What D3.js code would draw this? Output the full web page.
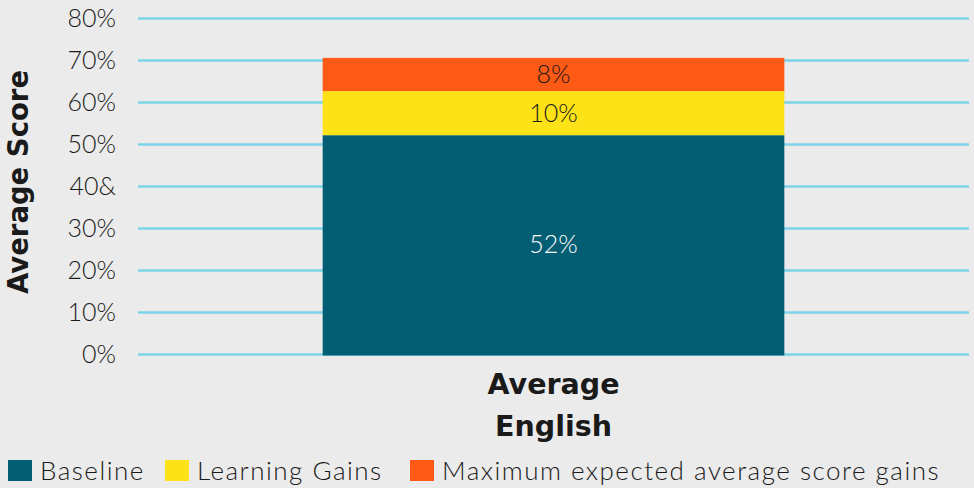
<!DOCTYPE html>
<html>
<head>
<meta charset="utf-8">
<script src="https://cdn.jsdelivr.net/npm/d3@7"></script>
<style>
  body { margin: 0; background: #ebebeb; }
  svg { display: block; }
  .tick-lbl { font-family: Lato, sans-serif; font-weight: 300; font-size: 25px; fill: #1a1a1a; }
  .bold { font-family: "DejaVu Sans", sans-serif; font-weight: bold; fill: #1a1a1a; }
  .seg-lbl { font-family: Lato, sans-serif; font-weight: 300; font-size: 25px; }
  .legend { font-family: Lato, sans-serif; font-weight: 300; font-size: 26px; letter-spacing: 1.5px; fill: #1a1a1a; }
</style>
</head>
<body>
<svg></svg>
<script>
const CATEGORIES = ["Average English"];
const SERIES = ["Baseline", "Learning Gains", "Maximum expected average score gains"];
const BASELINE = [52.1];
const LEARNING_GAINS = [10.5];
const MAX_GAINS = [7.9];
const SEG_LABELS = ["52%", "10%", "8%"];
const Y_TICKS = [0, 10, 20, 30, 40, 50, 60, 70, 80];
const Y_TICK_LABELS = ["0%", "10%", "20%", "30%", "40&", "50%", "60%", "70%", "80%"];
const COLORS = ["#035e73", "#fce216", "#ff5916"];
const LABEL_COLORS = ["#ffffff", "#1a1a1a", "#1a1a1a"];

const w = 974, h = 488;
const margin = {top: 18, right: 5, bottom: 134, left: 138};

const rows = CATEGORIES.map((c, i) => ({
	cat: c,
	[SERIES[0]]: BASELINE[i],
	[SERIES[1]]: LEARNING_GAINS[i],
	[SERIES[2]]: MAX_GAINS[i]
}));
const stacked = d3.stack().keys(SERIES)(rows);

const xScale = d3.scaleBand()
	.domain(CATEGORIES)
	.range([margin.left, w - margin.right])
	.paddingInner(0)
	.paddingOuter(0.4);

const yScale = d3.scaleLinear()
	.domain([0, 80])
	.range([h - margin.bottom, margin.top]);

const svg = d3.select('svg')
	.attr('width', w)
	.attr('height', h)
	.attr('viewBox', [0, 0, w, h]);

svg.append('rect')
	.attr('width', w).attr('height', h)
	.attr('fill', '#ebebeb');

// gridlines
const yGrid = d3.axisLeft(yScale)
	.tickValues(Y_TICKS)
	.tickFormat('')
	.tickSizeInner(-(w - margin.left - margin.right))
	.tickSizeOuter(0);

const grid = svg.append('g')
	.attr('transform', `translate(${margin.left},0)`)
	.call(yGrid);
grid.select('.domain').remove();
grid.selectAll('line')
	.attr('stroke', '#7dd3e8')
	.attr('stroke-width', 2.5);

// tick labels
svg.append('g')
	.selectAll('text')
	.data(Y_TICKS)
	.enter()
	.append('text')
		.attr('class', 'tick-lbl')
		.attr('x', 116)
		.attr('y', d => yScale(d))
		.attr('dy', '0.35em')
		.attr('text-anchor', 'end')
		.text((d, i) => Y_TICK_LABELS[i]);

// bars
const layers = svg.append('g')
	.selectAll('g')
	.data(stacked)
	.enter()
	.append('g')
		.attr('fill', (d, i) => COLORS[i]);

layers.selectAll('rect')
	.data(d => d.map(p => Object.assign(p, {cat: p.data.cat})))
	.enter()
	.append('rect')
		.attr('x', d => xScale(d.cat))
		.attr('width', xScale.bandwidth())
		.attr('y', d => yScale(d[1]))
		.attr('height', d => yScale(d[0]) - yScale(d[1]) + (d[0] === 0 ? 1.5 : 0));

// segment labels
stacked.forEach((layer, i) => {
	layer.forEach(d => {
		svg.append('text')
			.attr('class', 'seg-lbl')
			.attr('fill', LABEL_COLORS[i])
			.attr('x', xScale(d.data.cat) + xScale.bandwidth() / 2)
			.attr('y', yScale((d[0] + d[1]) / 2))
			.attr('dy', '0.35em')
			.attr('text-anchor', 'middle')
			.text(SEG_LABELS[i]);
	});
});

// category label
CATEGORIES.forEach(c => {
	const cx = xScale(c) + xScale.bandwidth() / 2;
	const t = svg.append('text')
		.attr('class', 'bold')
		.attr('font-size', 28.5)
		.attr('text-anchor', 'middle')
		.attr('x', cx)
		.attr('y', 394);
	c.split(' ').forEach((word, j) => {
		t.append('tspan')
			.attr('x', cx)
			.attr('dy', j === 0 ? 0 : 42)
			.text(word);
	});
});

// y axis title
svg.append('text')
	.attr('class', 'bold')
	.attr('font-size', 27.5)
	.attr('text-anchor', 'middle')
	.attr('transform', 'translate(28,182) rotate(-90)')
	.text('Average Score');

// legend
const legendX = [8, 165, 410];
const legend = svg.append('g')
	.selectAll('g')
	.data(SERIES)
	.enter()
	.append('g')
		.attr('transform', (d, i) => `translate(${legendX[i]},460)`);
legend.append('rect')
	.attr('width', 24)
	.attr('height', 21)
	.attr('fill', (d, i) => COLORS[i]);
legend.append('text')
	.attr('class', 'legend')
	.attr('x', 32)
	.attr('y', 20)
	.text(d => d);
</script>
</body>
</html>
